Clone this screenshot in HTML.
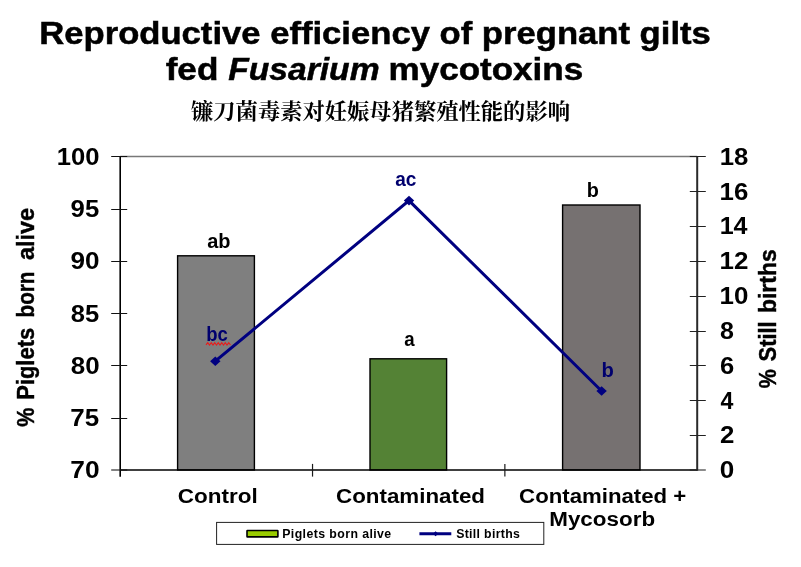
<!DOCTYPE html>
<html lang="en"><head><meta charset="utf-8"><title>Reproductive efficiency of pregnant gilts fed Fusarium mycotoxins</title>
<style>
html,body{margin:0;padding:0;background:#fff}
body{width:801px;height:567px;overflow:hidden}
svg{display:block}
svg text{font-family:"Liberation Sans",Arial,Helvetica,sans-serif;font-weight:bold}
svg text.cn{font-family:"Liberation Serif","Noto Serif CJK SC",serif;font-weight:700}
</style></head><body>
<svg width="801" height="567" viewBox="0 0 801 567">
<rect width="801" height="567" fill="#fff"/>
<line x1="120.2" y1="156.5" x2="697.2" y2="156.5" stroke="#787878" stroke-width="1.4"/>
<rect x="177.6" y="255.8" width="76.8" height="214.2" fill="#7f7f7f" stroke="#000" stroke-width="1.4"/>
<rect x="370.0" y="358.8" width="76.6" height="111.2" fill="#548235" stroke="#000" stroke-width="1.4"/>
<rect x="562.6" y="205.0" width="77.4" height="265.0" fill="#767171" stroke="#000" stroke-width="1.4"/>
<line x1="120.2" y1="156.5" x2="120.2" y2="476.8" stroke="#000" stroke-width="1.6"/>
<line x1="120.2" y1="470.0" x2="697.2" y2="470.0" stroke="#000" stroke-width="1.4"/>
<line x1="697.2" y1="156.5" x2="697.2" y2="470.7" stroke="#2a2a2a" stroke-width="2.0"/>
<line x1="111.2" y1="156.50" x2="127.2" y2="156.50" stroke="#111" stroke-width="1.05"/>
<line x1="111.2" y1="209.50" x2="127.2" y2="209.50" stroke="#111" stroke-width="1.05"/>
<line x1="111.2" y1="261.50" x2="127.2" y2="261.50" stroke="#111" stroke-width="1.05"/>
<line x1="111.2" y1="313.50" x2="127.2" y2="313.50" stroke="#111" stroke-width="1.05"/>
<line x1="111.2" y1="365.50" x2="127.2" y2="365.50" stroke="#111" stroke-width="1.05"/>
<line x1="111.2" y1="418.50" x2="127.2" y2="418.50" stroke="#111" stroke-width="1.05"/>
<line x1="111.2" y1="470.00" x2="127.2" y2="470.00" stroke="#111" stroke-width="1.05"/>
<line x1="689.8" y1="156.50" x2="705.8" y2="156.50" stroke="#222" stroke-width="1.05"/>
<line x1="689.8" y1="191.50" x2="705.8" y2="191.50" stroke="#222" stroke-width="1.05"/>
<line x1="689.8" y1="226.50" x2="705.8" y2="226.50" stroke="#222" stroke-width="1.05"/>
<line x1="689.8" y1="261.50" x2="705.8" y2="261.50" stroke="#222" stroke-width="1.05"/>
<line x1="689.8" y1="296.50" x2="705.8" y2="296.50" stroke="#222" stroke-width="1.05"/>
<line x1="689.8" y1="331.50" x2="705.8" y2="331.50" stroke="#222" stroke-width="1.05"/>
<line x1="689.8" y1="365.50" x2="705.8" y2="365.50" stroke="#222" stroke-width="1.05"/>
<line x1="689.8" y1="400.50" x2="705.8" y2="400.50" stroke="#222" stroke-width="1.05"/>
<line x1="689.8" y1="435.50" x2="705.8" y2="435.50" stroke="#222" stroke-width="1.05"/>
<line x1="689.8" y1="470.00" x2="705.8" y2="470.00" stroke="#222" stroke-width="1.05"/>
<line x1="312.53" y1="463.9" x2="312.53" y2="476.6" stroke="#1a1a1a" stroke-width="1.2"/>
<line x1="504.87" y1="463.9" x2="504.87" y2="476.6" stroke="#1a1a1a" stroke-width="1.2"/>
<polyline points="215.3,361.2 409.0,200.6 601.6,391.0" fill="none" stroke="#000080" stroke-width="3" stroke-linejoin="miter"/>
<path d="M210.1 361.2L215.3 356.4L220.5 361.2L215.3 366.0Z" fill="#000080"/>
<path d="M403.8 200.6L409.0 195.8L414.2 200.6L409.0 205.4Z" fill="#000080"/>
<path d="M596.4 391.0L601.6 386.2L606.8 391.0L601.6 395.8Z" fill="#000080"/>
<rect x="216.6" y="522.4" width="327.2" height="22" fill="#fff" stroke="#222" stroke-width="1"/>
<rect x="247.0" y="530.5" width="30.9" height="6.4" rx="0.4" fill="#99cc00" stroke="#000" stroke-width="1.6"/>
<line x1="419.4" y1="533.7" x2="451.3" y2="533.7" stroke="#000080" stroke-width="3"/>
<path d="M433 533.7L435.6 531.2L438.2 533.7L435.6 536.2Z" fill="#000080"/>
<path d="M206 344.8L207.75 342.6L209.5 345.0L211.25 342.6L213.0 345.0L214.75 342.6L216.5 345.0L218.25 342.6L220.0 345.0L221.75 342.6L223.5 345.0L225.25 342.6L227.0 345.0L228.75 342.6L230.5 345.0" fill="none" stroke="#e81c1c" stroke-width="1.1"/>
<text transform="translate(39.25 43.80) scale(1.1175 1)" font-size="31.0" fill="#000" stroke="#000" stroke-width="0.5">Reproductive efficiency of pregnant gilts</text>
<text transform="translate(165.67 79.80) scale(1.1336 1)" font-size="31.0" fill="#000" stroke="#000" stroke-width="0.5">fed</text>
<text transform="translate(228.13 79.80) scale(1.0854 1)" font-size="31.0" font-style="italic" fill="#000" stroke="#000" stroke-width="0.5">Fusarium</text>
<text transform="translate(388.52 79.80) scale(1.1305 1)" font-size="31.0" fill="#000" stroke="#000" stroke-width="0.5">mycotoxins</text>
<text transform="translate(56.83 164.80) scale(1.0552 1)" font-size="24.3" fill="#000" >100</text>
<text transform="translate(70.60 217.05) scale(1.0582 1)" font-size="24.3" fill="#000" >95</text>
<text transform="translate(70.59 269.30) scale(1.0735 1)" font-size="24.3" fill="#000" >90</text>
<text transform="translate(70.73 321.55) scale(1.0532 1)" font-size="24.3" fill="#000" >85</text>
<text transform="translate(70.72 373.80) scale(1.0684 1)" font-size="24.3" fill="#000" >80</text>
<text transform="translate(70.33 426.05) scale(1.0684 1)" font-size="24.3" fill="#000" >75</text>
<text transform="translate(70.31 478.30) scale(1.0840 1)" font-size="24.3" fill="#000" >70</text>
<text transform="translate(719.63 164.80) scale(1.0582 1)" font-size="24.3" fill="#000" >18</text>
<text transform="translate(719.62 199.63) scale(1.0634 1)" font-size="24.3" fill="#000" >16</text>
<text transform="translate(719.67 234.47) scale(1.0328 1)" font-size="24.3" fill="#000" >14</text>
<text transform="translate(719.61 269.30) scale(1.0687 1)" font-size="24.3" fill="#000" >12</text>
<text transform="translate(719.61 304.13) scale(1.0687 1)" font-size="24.3" fill="#000" >10</text>
<text transform="translate(720.05 338.97) scale(1.0309 1)" font-size="24.3" fill="#000" >8</text>
<text transform="translate(719.91 373.80) scale(1.0521 1)" font-size="24.3" fill="#000" >6</text>
<text transform="translate(720.45 408.63) scale(0.9538 1)" font-size="24.3" fill="#000" >4</text>
<text transform="translate(719.90 443.47) scale(1.0631 1)" font-size="24.3" fill="#000" >2</text>
<text transform="translate(719.76 478.30) scale(1.0743 1)" font-size="24.3" fill="#000" >0</text>
<text transform="translate(177.80 503.00) scale(1.1029 1)" font-size="20.4" fill="#000" >Control</text>
<text transform="translate(336.11 502.80) scale(1.0955 1)" font-size="20.4" fill="#000" >Contaminated</text>
<text transform="translate(519.11 502.60) scale(1.0890 1)" font-size="20.4" fill="#000" >Contaminated +</text>
<text transform="translate(549.24 525.70) scale(1.0994 1)" font-size="20.4" fill="#000" >Mycosorb</text>
<text x="282.20" y="537.90" font-size="12.3" letter-spacing="0.423" fill="#000" >Piglets born alive</text>
<text x="456.13" y="537.90" font-size="12.3" letter-spacing="0.329" fill="#000" >Still births</text>
<text transform="translate(207.20 247.60) scale(1.0309 1)" font-size="19.4" fill="#000" >ab</text>
<text transform="translate(404.34 346.00) scale(0.9628 1)" font-size="19.4" fill="#000" >a</text>
<text transform="translate(586.71 197.00) scale(1.0207 1)" font-size="19.4" fill="#000" >b</text>
<text transform="translate(206.20 340.50) scale(0.9538 1)" font-size="19.4" fill="#00006e" >bc</text>
<text transform="translate(395.23 186.20) scale(0.9818 1)" font-size="19.4" fill="#00006e" >ac</text>
<text transform="translate(601.49 376.50) scale(1.0411 1)" font-size="19.4" fill="#00006e" >b</text>
<text transform="translate(34.30 426.30) rotate(-90) scale(1 1.06)" font-size="23" stroke="#000" stroke-width="0.4"><tspan x="-0.54" textLength="19.16" lengthAdjust="spacingAndGlyphs">%</tspan> <tspan x="26.58" textLength="71.88" lengthAdjust="spacingAndGlyphs">Piglets</tspan> <tspan x="108.86" textLength="45.92" lengthAdjust="spacingAndGlyphs">born</tspan> <tspan x="166.20" textLength="52.10" lengthAdjust="spacingAndGlyphs">alive</tspan></text>
<text transform="translate(776.10 387.70) rotate(-90) scale(1 1.06)" font-size="23" stroke="#000" stroke-width="0.4"><tspan x="-0.54" textLength="19.05" lengthAdjust="spacingAndGlyphs">%</tspan> <tspan x="26.24" textLength="40.17" lengthAdjust="spacingAndGlyphs">Still</tspan> <tspan x="74.71" textLength="63.67" lengthAdjust="spacingAndGlyphs">births</tspan></text>
<text x="191.0" y="118.6" class="cn" font-size="22" textLength="379" lengthAdjust="spacingAndGlyphs">镰刀菌毒素对妊娠母猪繁殖性能的影响</text>
</svg>
</body></html>
